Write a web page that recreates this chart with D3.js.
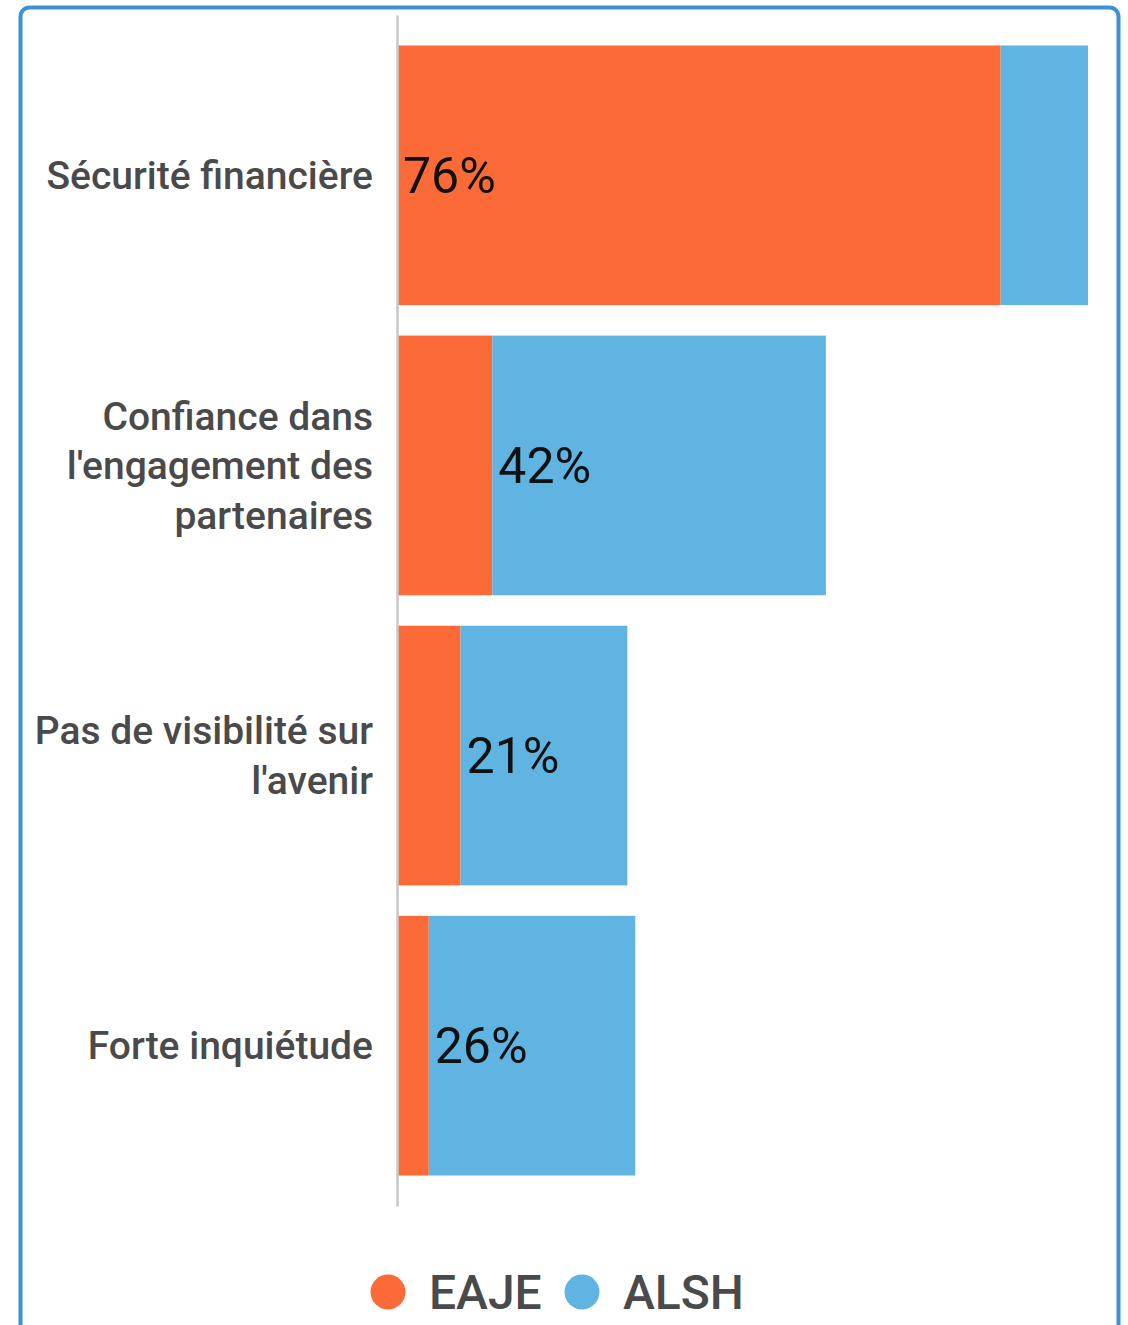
<!DOCTYPE html>
<html>
<head>
<meta charset="utf-8">
<script src="https://cdn.jsdelivr.net/npm/d3@7"></script>
<style>
  body { margin: 0; background: #fff; }
  svg { display: block; font-family: Roboto, "Noto Sans", sans-serif; }
</style>
</head>
<body>
<svg width="1128" height="1325"></svg>
<script>
var categories = ['Sécurité financière', "Confiance dans l'engagement des partenaires", "Pas de visibilité sur l'avenir", 'Forte inquiétude'];
var series = ['EAJE', 'ALSH'];
var eaje = [76, 12, 8, 4];
var alsh = [11, 42, 21, 26];
var colors = ['#fc6a38', '#5fb4e2'];

var width = 1128;
var height = 1325;
var axisX = 397;

var rows = categories.map(function(c, i) {
    return { category: c, EAJE: eaje[i], ALSH: alsh[i] };
});

var svg = d3.select('svg');

// cadre
svg.append('rect')
    .attr('x', 20.5)
    .attr('y', 7.5)
    .attr('width', 1098)
    .attr('height', 1330)
    .attr('rx', 9)
    .attr('fill', 'none')
    .attr('stroke', '#3d93d1')
    .attr('stroke-width', 4);

var yScale = d3.scaleBand()
    .domain(categories)
    .range([15, 1206])
    .padding(0.105);

var xScale = d3.scaleLinear()
    .domain([0, 87])
    .range([axisX, 1088]);

var colorScale = d3.scaleOrdinal()
    .domain(series)
    .range(colors);

var stacked = d3.stack().keys(series)(rows);

var layers = svg.selectAll('g.layer')
    .data(stacked)
    .enter()
    .append('g')
      .classed('layer', true)
      .attr('fill', d => colorScale(d.key));

layers.selectAll('rect')
    .data(d => d)
    .enter()
    .append('rect')
      .attr('x', d => xScale(d[0]))
      .attr('y', d => yScale(d.data.category))
      .attr('width', d => xScale(d[1]) - xScale(d[0]))
      .attr('height', yScale.bandwidth());

// étiquette sur le segment majoritaire
rows.forEach(function(row) {
    var key = row.EAJE >= row.ALSH ? 'EAJE' : 'ALSH';
    var start = key === 'EAJE' ? 0 : row.EAJE;
    svg.append('text')
        .attr('x', xScale(start) + 6)
        .attr('y', yScale(row.category) + yScale.bandwidth() / 2)
        .attr('dy', '0.35em')
        .attr('font-size', 50)
        .attr('fill', '#111')
        .text(row[key] + '%');
});

// axe vertical
var yAxis = d3.axisLeft(yScale).tickSize(0).tickPadding(24);
var axisG = svg.append('g')
    .attr('transform', 'translate(' + axisX + ',0)')
    .call(yAxis);

axisG.select('.domain')
    .attr('stroke', '#c8c8c8')
    .attr('stroke-width', 2.5);

axisG.selectAll('.tick text')
    .attr('font-size', 39)
    .attr('font-weight', 500)
    .attr('font-family', 'Roboto, sans-serif')
    .attr('fill', '#4a4a4a')
    .call(wrap, 360, 49.5);

function wrap(texts, maxWidth, lineHeight) {
    texts.each(function() {
        var text = d3.select(this);
        var words = text.text().split(/\s+/);
        var x = text.attr('x');
        text.text(null);
        var lines = [];
        var line = [];
        var probe = text.append('tspan');
        words.forEach(function(w) {
            line.push(w);
            probe.text(line.join(' '));
            if (probe.node().getComputedTextLength() > maxWidth && line.length > 1) {
                line.pop();
                lines.push(line.join(' '));
                line = [w];
            }
        });
        lines.push(line.join(' '));
        probe.remove();
        var offset = -(lines.length - 1) / 2 * lineHeight;
        lines.forEach(function(l, i) {
            text.append('tspan')
                .attr('x', x)
                .attr('dy', i === 0 ? offset + 0.35 * 39 : lineHeight)
                .text(l);
        });
        text.attr('dy', null);
    });
}

// légende
var legend = svg.append('g')
    .attr('transform', 'translate(0,1292)');

var legendX = [388, 582];
series.forEach(function(s, i) {
    legend.append('circle')
        .attr('cx', legendX[i])
        .attr('cy', 0)
        .attr('r', 17.5)
        .attr('fill', colorScale(s));
    legend.append('text')
        .attr('x', legendX[i] + 41)
        .attr('y', 0)
        .attr('dy', '0.35em')
        .attr('font-size', 48)
        .attr('font-weight', 500)
        .attr('fill', '#4a4a4a')
        .text(s);
});
</script>
</body>
</html>
